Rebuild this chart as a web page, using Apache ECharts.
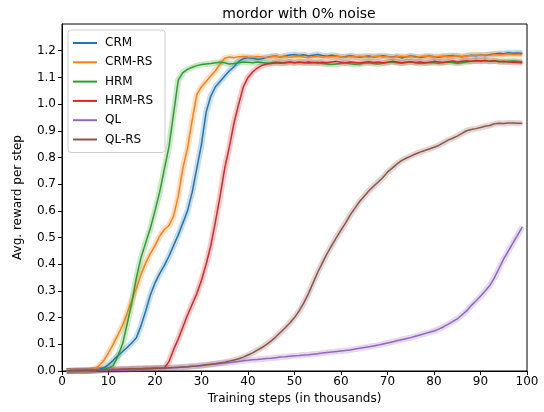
<!DOCTYPE html>
<html>
<head>
<meta charset="utf-8">
<script src="https://cdn.jsdelivr.net/npm/echarts@6/dist/echarts.min.js"></script>
<style>
  html, body { margin: 0; padding: 0; background: #fff; }
  #chart { width: 544px; height: 412px; }
</style>
</head>
<body>
<div id="chart"></div>
<script>
// training steps in thousands, 1..99
var steps = Array.from({ length: 99 }, function (_, i) { return i + 1; });

var names = ['CRM', 'CRM-RS', 'HRM', 'HRM-RS', 'QL', 'QL-RS'];
var colors = ['#1f77b4', '#ff7f0e', '#2ca02c', '#d62728', '#9467bd', '#8c564b'];
var yTicks = [0, 0.1, 0.2, 0.3, 0.4, 0.5, 0.6, 0.7, 0.8, 0.9, 1.0, 1.1, 1.2];

var crm = [0,0,0,0,0,0.001,0.003,0.006,0.012,0.024,
  0.04,0.057,0.072,0.088,0.105,0.125,0.17,0.225,0.285,0.33,
  0.365,0.395,0.43,0.47,0.51,0.555,0.6,0.67,0.76,0.85,
  0.97,1.03,1.065,1.085,1.105,1.125,1.14,1.16,1.17,1.174,
  1.172,1.168,1.17,1.175,1.178,1.18,1.176,1.18,1.184,1.186,
  1.182,1.185,1.18,1.183,1.186,1.182,1.179,1.183,1.18,1.176,
  1.178,1.181,1.178,1.175,1.178,1.18,1.176,1.178,1.181,1.178,
  1.176,1.179,1.173,1.177,1.18,1.178,1.174,1.177,1.18,1.177,
  1.175,1.178,1.18,1.182,1.18,1.177,1.18,1.183,1.181,1.184,
  1.182,1.186,1.188,1.19,1.189,1.192,1.19,1.191,1.19];

var crmRs = [0,0,0,0,0,0.002,0.008,0.02,0.04,0.068,
  0.1,0.135,0.17,0.215,0.265,0.31,0.362,0.405,0.44,0.47,
  0.505,0.53,0.545,0.58,0.655,0.76,0.835,0.94,1.035,1.065,
  1.085,1.105,1.125,1.15,1.172,1.176,1.174,1.177,1.178,1.176,
  1.175,1.178,1.176,1.174,1.177,1.179,1.176,1.178,1.175,1.177,
  1.18,1.176,1.174,1.177,1.179,1.175,1.178,1.176,1.179,1.177,
  1.175,1.178,1.176,1.179,1.177,1.175,1.178,1.18,1.176,1.178,
  1.175,1.177,1.179,1.176,1.178,1.175,1.177,1.18,1.178,1.176,
  1.178,1.18,1.177,1.179,1.181,1.178,1.18,1.182,1.184,1.182,
  1.185,1.183,1.186,1.184,1.186,1.188,1.186,1.187,1.186];

var hrm = [0,0,0,0,0,0,0,0.002,0.006,0.011,
  0.02,0.055,0.1,0.175,0.255,0.35,0.425,0.48,0.535,0.6,
  0.67,0.755,0.84,0.965,1.09,1.118,1.13,1.138,1.144,1.148,
  1.15,1.152,1.155,1.157,1.155,1.15,1.152,1.155,1.158,1.157,
  1.155,1.158,1.156,1.153,1.155,1.158,1.156,1.154,1.157,1.155,
  1.158,1.156,1.153,1.155,1.157,1.152,1.15,1.148,1.15,1.152,
  1.155,1.151,1.149,1.15,1.153,1.155,1.152,1.15,1.153,1.156,
  1.158,1.155,1.153,1.156,1.158,1.155,1.152,1.154,1.156,1.155,
  1.153,1.156,1.158,1.156,1.153,1.155,1.158,1.16,1.162,1.16,
  1.163,1.16,1.162,1.16,1.158,1.16,1.161,1.16,1.159];

var hrmRs = [0,0.001,0.002,0.002,0.003,0.003,0.004,0.004,0.005,0.005,
  0.006,0.006,0.007,0.007,0.008,0.008,0.008,0.009,0.009,0.01,
  0.01,0.011,0.035,0.08,0.12,0.165,0.21,0.25,0.29,0.34,
  0.4,0.47,0.56,0.655,0.76,0.84,0.93,1.0,1.065,1.1,
  1.12,1.135,1.145,1.15,1.152,1.155,1.153,1.156,1.158,1.155,
  1.157,1.155,1.158,1.156,1.154,1.157,1.155,1.158,1.16,1.157,
  1.155,1.158,1.156,1.154,1.157,1.159,1.156,1.158,1.155,1.157,
  1.16,1.158,1.155,1.157,1.159,1.156,1.158,1.155,1.157,1.16,
  1.158,1.156,1.159,1.161,1.158,1.16,1.162,1.16,1.163,1.161,
  1.163,1.16,1.162,1.159,1.16,1.158,1.157,1.156,1.155];

var ql = [0,0.001,0.001,0.002,0.002,0.002,0.003,0.003,0.004,0.004,
  0.005,0.005,0.006,0.006,0.007,0.007,0.008,0.008,0.009,0.009,
  0.01,0.01,0.011,0.012,0.013,0.015,0.016,0.018,0.019,0.021,
  0.022,0.024,0.026,0.028,0.03,0.032,0.034,0.036,0.038,0.04,
  0.042,0.043,0.045,0.047,0.048,0.05,0.052,0.053,0.055,0.057,
  0.058,0.06,0.061,0.063,0.065,0.067,0.069,0.071,0.073,0.075,
  0.077,0.079,0.082,0.085,0.088,0.091,0.094,0.097,0.101,0.105,
  0.109,0.113,0.117,0.121,0.125,0.13,0.135,0.14,0.145,0.15,
  0.157,0.165,0.175,0.185,0.195,0.21,0.225,0.245,0.262,0.28,
  0.3,0.32,0.35,0.385,0.42,0.45,0.48,0.51,0.54];

var qlRs = [0,0.001,0.002,0.002,0.003,0.003,0.004,0.004,0.005,0.005,
  0.006,0.006,0.007,0.007,0.008,0.008,0.008,0.009,0.009,0.01,
  0.01,0.011,0.012,0.013,0.014,0.015,0.016,0.018,0.019,0.021,
  0.023,0.025,0.027,0.03,0.033,0.037,0.041,0.046,0.052,0.06,
  0.068,0.078,0.088,0.1,0.113,0.128,0.145,0.162,0.18,0.2,
  0.225,0.255,0.29,0.33,0.37,0.405,0.44,0.47,0.5,0.528,
  0.555,0.585,0.61,0.635,0.655,0.675,0.692,0.708,0.725,0.745,
  0.76,0.775,0.788,0.797,0.805,0.813,0.82,0.826,0.832,0.838,
  0.845,0.855,0.865,0.872,0.88,0.89,0.9,0.905,0.908,0.912,
  0.917,0.92,0.926,0.928,0.927,0.929,0.929,0.928,0.928];

var values = [crm, crmRs, hrm, hrmRs, ql, qlRs];

var font = 'DejaVu Sans';
var chart = echarts.init(document.getElementById('chart'));

var series = [];
names.forEach(function (name, k) {
  var pts = steps.map(function (s, i) { return [s, values[k][i]]; });
  // translucent spread band drawn as a thick faded line
  series.push({
    name: name + ' band', type: 'line', data: pts, symbol: 'none', silent: true,
    z: 1, lineStyle: { color: colors[k], width: 6, opacity: 0.25 }
  });
  series.push({
    name: name, type: 'line', data: pts, symbol: 'none', z: 2 + k,
    color: colors[k], lineStyle: { color: colors[k], width: 1.5 }
  });
});

chart.setOption({
  animation: false,
  title: {
    text: 'mordor with 0% noise', left: 294, top: 2, textAlign: 'center',
    textStyle: { fontFamily: font, fontSize: 14, fontWeight: 'normal', color: '#000' }
  },
  grid: { left: 62, right: 17, top: 24, bottom: 41, show: true, borderColor: '#000', borderWidth: 1 },
  legend: {
    data: names, orient: 'vertical', left: 68, top: 30,
    icon: 'rect', itemWidth: 24, itemHeight: 2, itemGap: 7.3,
    padding: [7, 12, 7, 5],
    backgroundColor: 'rgba(255,255,255,0.8)', borderColor: '#ccc', borderWidth: 1, borderRadius: 3,
    textStyle: { fontFamily: font, fontSize: 12, color: '#000', padding: [0, 0, 0, 3] }
  },
  xAxis: {
    type: 'value', min: 0, max: 100, interval: 10,
    name: 'Training steps (in thousands)', nameLocation: 'middle', nameGap: 20,
    nameTextStyle: { fontFamily: font, fontSize: 12, color: '#000' },
    axisLine: { lineStyle: { color: '#000' } },
    axisTick: { inside: false, length: 4, lineStyle: { color: '#000' } },
    axisLabel: { fontFamily: font, fontSize: 12, color: '#000', margin: 5 },
    splitLine: { show: false }
  },
  yAxis: {
    type: 'value', min: 0, max: 1.3, interval: 0.1,
    name: 'Avg. reward per step', nameLocation: 'middle', nameGap: 38,
    nameTextStyle: { fontFamily: font, fontSize: 12, color: '#000' },
    axisLine: { show: true, lineStyle: { color: '#000' } },
    axisTick: { show: true, length: 4, customValues: yTicks, lineStyle: { color: '#000' } },
    axisLabel: {
      fontFamily: font, fontSize: 12, color: '#000', margin: 6, customValues: yTicks,
      formatter: function (v) { return v.toFixed(1); }
    },
    splitLine: { show: false }
  },
  series: series
});
</script>
</body>
</html>
